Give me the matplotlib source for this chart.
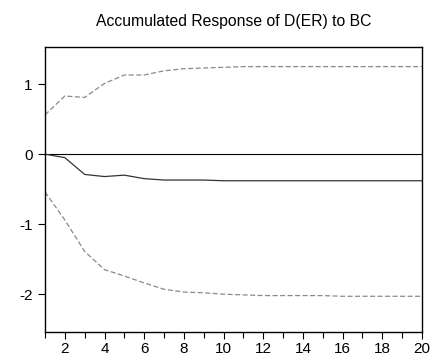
import numpy as np
import matplotlib.pyplot as plt
from matplotlib.ticker import MultipleLocator

plt.rcParams['font.family'] = ['Liberation Sans', 'DejaVu Sans']

# Periods and accumulated response with +/- 2 S.E. bands
periods = np.arange(1, 21)
response = [0.0, -0.05, -0.29, -0.32, -0.30, -0.35, -0.37, -0.37, -0.37, -0.38,
            -0.38, -0.38, -0.38, -0.38, -0.38, -0.38, -0.38, -0.38, -0.38, -0.38]
upper = [0.56, 0.83, 0.81, 1.01, 1.13, 1.13, 1.19, 1.22, 1.23, 1.24,
         1.25, 1.25, 1.25, 1.25, 1.25, 1.25, 1.25, 1.25, 1.25, 1.25]
lower = [-0.54, -0.94, -1.39, -1.65, -1.74, -1.84, -1.93, -1.97, -1.98, -2.00,
         -2.01, -2.02, -2.02, -2.02, -2.02, -2.03, -2.03, -2.03, -2.03, -2.03]

fig = plt.figure(figsize=(4.42, 3.58), dpi=100)
ax = fig.add_axes([45 / 442, 1 - 332 / 358, 377 / 442, 285 / 358])

ax.axhline(0, color='black', linewidth=0.8)
ax.plot(periods, response, color='#333333', linewidth=0.9)
ax.plot(periods, upper, color='#8a8a8a', linewidth=0.9, dashes=(4, 2))
ax.plot(periods, lower, color='#8a8a8a', linewidth=0.9, dashes=(4, 2))

ax.set_xlim(1, 20)
ax.set_ylim(-2.54, 1.53)
ax.xaxis.set_major_locator(MultipleLocator(2))
ax.xaxis.set_minor_locator(MultipleLocator(1))
ax.set_yticks([-2, -1, 0, 1])
ax.set_yticklabels(['-2', '-1', '0', '1'])
ax.tick_params(axis='both', which='major', labelsize=11, length=5, width=0.8, pad=2)
ax.tick_params(axis='y', which='major', pad=4)
ax.tick_params(axis='x', which='minor', length=4, width=0.8)
for s in ax.spines.values():
    s.set_linewidth(1.0)

ax.set_title('Accumulated Response of D(ER) to BC', fontsize=11.3, pad=15)

plt.savefig('out.png', dpi=100)
